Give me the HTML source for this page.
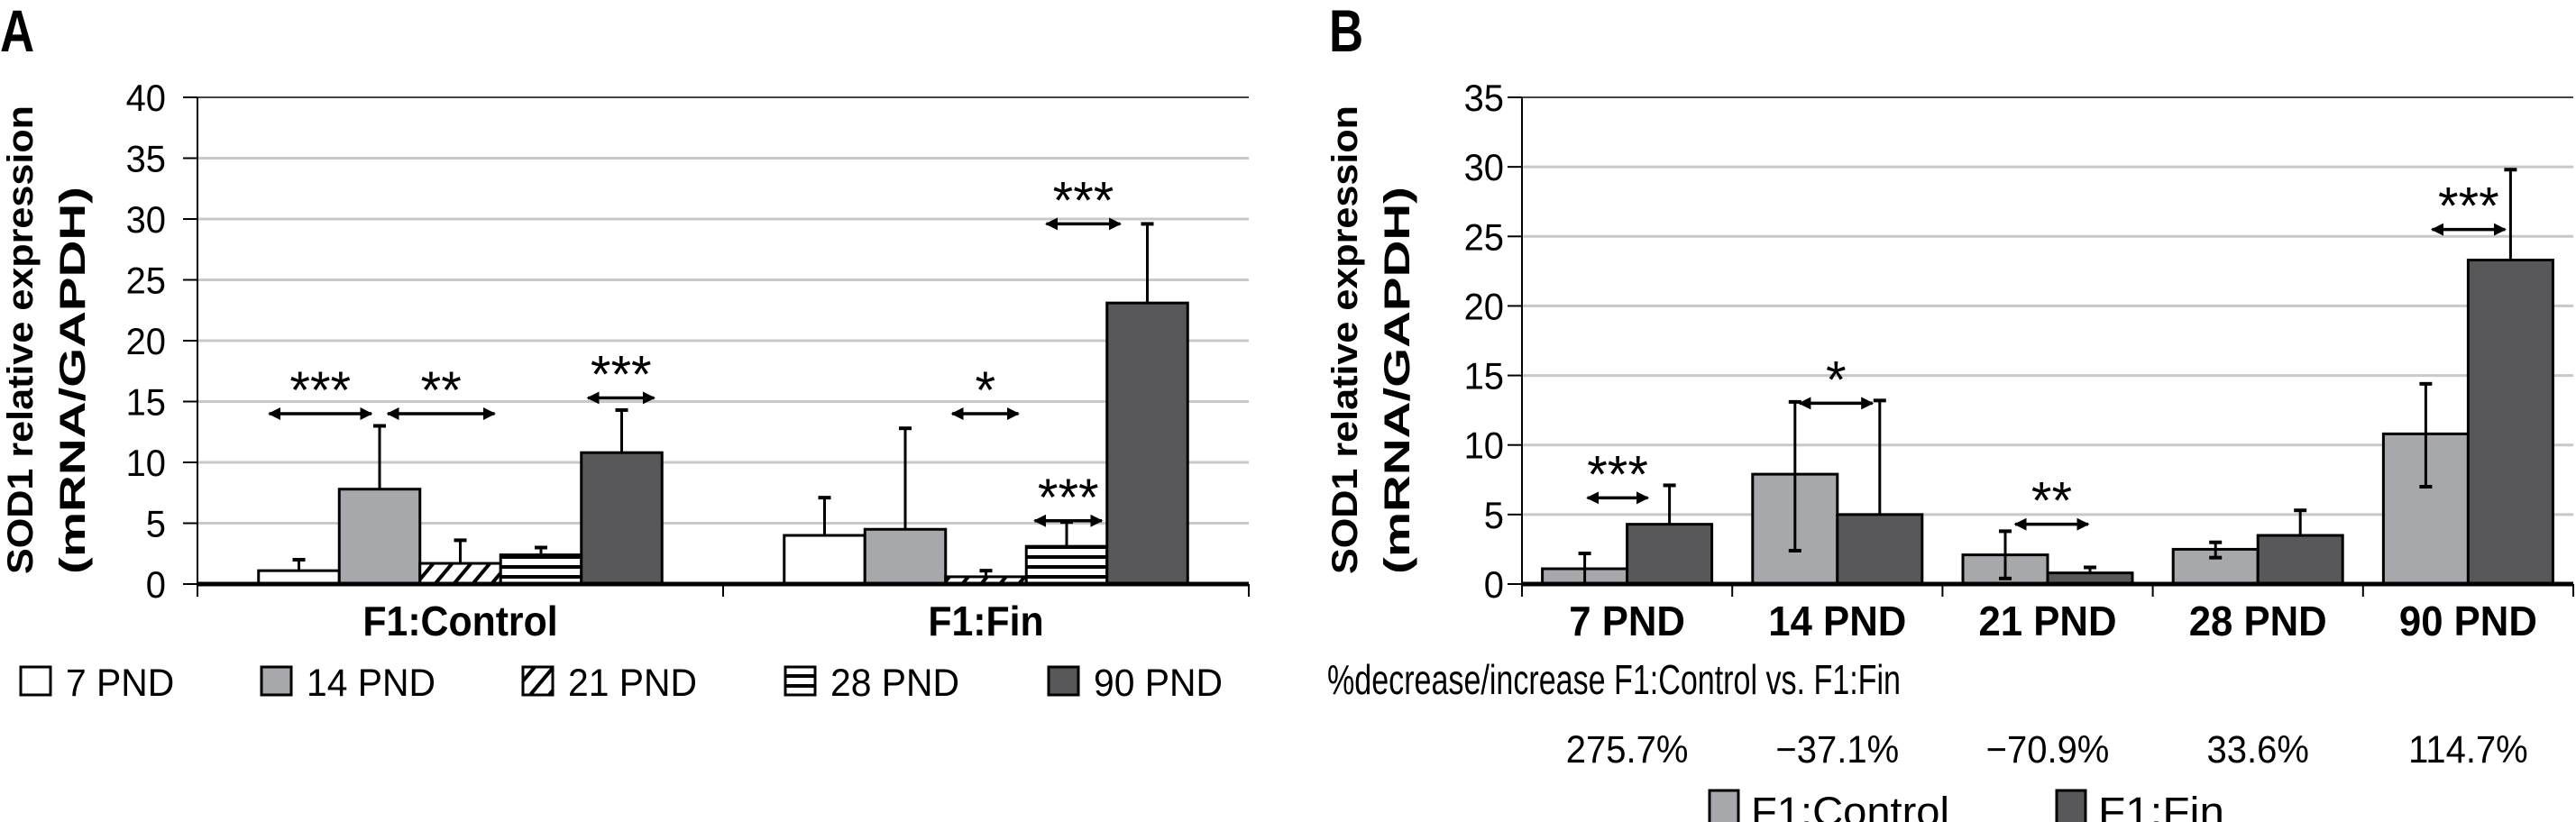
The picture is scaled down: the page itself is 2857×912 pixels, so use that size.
<!DOCTYPE html>
<html><head><meta charset="utf-8"><style>
html,body{margin:0;padding:0;background:#fff;}
svg{display:block;font-family:"Liberation Sans",sans-serif;}
</style></head><body>
<svg id="c" width="2857" height="912" viewBox="0 0 2857 912" xmlns="http://www.w3.org/2000/svg">
<defs>
<pattern id="diag" width="16" height="16" patternUnits="userSpaceOnUse" patternTransform="rotate(40)">
<rect width="16" height="16" fill="#fff"/><rect x="0" y="0" width="4" height="16" fill="#000"/></pattern>
<pattern id="horiz" width="10" height="11" patternUnits="userSpaceOnUse">
<rect width="10" height="11" fill="#fff"/><rect x="0" y="0" width="10" height="4" fill="#000"/></pattern>
<marker id="ah" viewBox="0 0 10 10" refX="9" refY="5" markerWidth="4" markerHeight="4" orient="auto-start-reverse"><path d="M0,0 L10,5 L0,10 z" fill="#000"/></marker>
</defs>
</svg>
<script>
// ---------- Panel A data ----------
const aGroups = ['F1:Control','F1:Fin'];
const aSeries = ['7 PND','14 PND','21 PND','28 PND','90 PND'];
const aControl = [1.1, 7.8, 1.7, 2.4, 10.8];
const aControlErr = [2.0, 13.0, 3.6, 3.0, 14.3];
const aFin = [4.0, 4.5, 0.6, 3.1, 23.1];
const aFinErr = [7.1, 12.8, 1.1, 5.1, 29.6];
const aTicks = [0,5,10,15,20,25,30,35,40];
// ---------- Panel B data ----------
const bCats = ['7 PND','14 PND','21 PND','28 PND','90 PND'];
const bControl = [1.1, 7.9, 2.1, 2.5, 10.8];
const bControlHi = [2.2, 13.1, 3.8, 3.0, 14.4];
const bControlLo = [0.0, 2.4, 0.4, 1.9, 7.0];
const bFin = [4.3, 5.0, 0.8, 3.5, 23.3];
const bFinHi = [7.1, 13.2, 1.2, 5.3, 29.8];
const bTicks = [0,5,10,15,20,25,30,35];
const bPct = ['275.7%','\u221237.1%','\u221270.9%','33.6%','114.7%'];

const NS='http://www.w3.org/2000/svg';
const svg=document.getElementById('c');
function el(tag,attrs,parent){const e=document.createElementNS(NS,tag);for(const k in attrs)e.setAttribute(k,attrs[k]);(parent||svg).appendChild(e);return e;}
function txt(x,y,s,size,anchor,bold,sx,parent){
  const t=el('text',{x:0,y:0,'font-size':size,'text-anchor':anchor||'start','font-weight':bold?'bold':'normal',fill:'#000',transform:`translate(${x},${y}) scale(${sx||1},1)`},parent);
  t.textContent=s;return t;}
function errBar(x,yTop,yBot){
  el('line',{x1:x,y1:yTop,x2:x,y2:yBot,stroke:'#000','stroke-width':3});
  el('line',{x1:x-7,y1:yTop,x2:x+7,y2:yTop,stroke:'#000','stroke-width':4});
}
function sig(x1,x2,y,label){
  el('line',{x1:x1+4,y1:y,x2:x2-4,y2:y,stroke:'#000','stroke-width':3.5,'marker-start':'url(#ah)','marker-end':'url(#ah)'});
  const t=txt((x1+x2)/2,y-6,label,58,'middle',false,1);
  
  
}

// ================= Panel A =================
const A={x0:219,x1:1385,yTop:108,yBot:648,max:40};
const ayS=v=>A.yBot-(v/A.max)*(A.yBot-A.yTop);
let pl=txt(0,57,'A',66,'start',true,0.8);

aTicks.forEach(v=>{
  const y=ayS(v);
  if(v>0&&v<A.max){const g=el('line',{x1:A.x0,y1:y,x2:A.x1,y2:y,stroke:'#c8c8c8','stroke-width':3});
  }
  el('line',{x1:A.x0-16,y1:y,x2:A.x0,y2:y,stroke:'#000','stroke-width':2});
  const t=txt(A.x0-35,y+15,String(v),42,'end',false,0.95);
  
});
el('line',{x1:A.x0,y1:A.yTop,x2:A.x1,y2:A.yTop,stroke:'#444','stroke-width':2});
const aGW=(A.x1-A.x0)/aGroups.length, aBW=89.5;
const aFills=['#fff','#a7a8ab','url(#diag)','url(#horiz)','#58585a'];
const aGroupBars=[];
aGroups.forEach((g,gi)=>{
  const vals=gi===0?aControl:aFin, errs=gi===0?aControlErr:aFinErr;
  const cx=A.x0+aGW*(gi+0.5), start=cx-aBW*aSeries.length/2;
  const xs=[];
  vals.forEach((v,i)=>{
    const x=start+i*aBW; xs.push(x+aBW/2);
    const r=el('rect',{x:x,y:ayS(v),width:aBW,height:A.yBot-ayS(v),fill:aFills[i],stroke:'#000','stroke-width':3});
    
    
    errBar(x+aBW/2,ayS(errs[i]),ayS(v));
  });
  aGroupBars.push(xs);
  const t=txt(cx,705,g,46,'middle',true,0.93);
  
});
el('line',{x1:A.x0,y1:A.yTop,x2:A.x0,y2:A.yBot+14,stroke:'#000','stroke-width':2});
el('line',{x1:A.x0,y1:A.yBot,x2:A.x1,y2:A.yBot,stroke:'#000','stroke-width':5});
[A.x0,A.x0+aGW,A.x1].forEach(x=>el('line',{x1:x,y1:A.yBot,x2:x,y2:A.yBot+14,stroke:'#000','stroke-width':2}));
// significance A
sig(aGroupBars[0][0]-37,aGroupBars[0][1]-5,ayS(14),'***');
sig(aGroupBars[0][1]+5,aGroupBars[0][2]+42,ayS(14),'**');
sig(aGroupBars[0][3]+48,aGroupBars[0][4]+40,ayS(15.3),'***');
sig(aGroupBars[1][1]+48,aGroupBars[1][2]+40,ayS(14),'*');
sig(aGroupBars[1][2]+50,aGroupBars[1][3]+43,ayS(5.2),'***');
sig(aGroupBars[1][4]-116,aGroupBars[1][4]-26,ayS(29.6),'***');
// y title A
let yt=el('text',{transform:'translate(36,377) rotate(-90)','text-anchor':'middle','font-size':40,'font-weight':'bold',fill:'#000',textLength:520,lengthAdjust:'spacingAndGlyphs'});
yt.textContent='SOD1 relative expression';
yt=el('text',{transform:'translate(94,422) rotate(-90)','text-anchor':'middle','font-size':40,'font-weight':'bold',fill:'#000',textLength:430,lengthAdjust:'spacingAndGlyphs'});
yt.textContent='(mRNA/GAPDH)';
// legend A
const aLegX=[23,290,580,871,1163];
aSeries.forEach((s,i)=>{
  const g=el('g',{});
  
  el('rect',{x:aLegX[i],y:740,width:33,height:31,fill:aFills[i],stroke:'#000','stroke-width':3},g);
  txt(aLegX[i]+50,772,s,43,'start',false,0.95,g);
});

// ================= Panel B =================
const B={x0:1688,x1:2854,yTop:108,yBot:648,max:35};
const byS=v=>B.yBot-(v/B.max)*(B.yBot-B.yTop);
pl=txt(1474,57,'B',66,'start',true,0.8);

bTicks.forEach(v=>{
  const y=byS(v);
  if(v>0&&v<B.max){const g=el('line',{x1:B.x0,y1:y,x2:B.x1,y2:y,stroke:'#c8c8c8','stroke-width':3});
  }
  el('line',{x1:B.x0-16,y1:y,x2:B.x0,y2:y,stroke:'#000','stroke-width':2});
  const t=txt(B.x0-20,y+15,String(v),42,'end',false,0.95);
  
});
el('line',{x1:B.x0,y1:B.yTop,x2:B.x1,y2:B.yTop,stroke:'#444','stroke-width':2});
const bCW=(B.x1-B.x0)/bCats.length, bBW=94;
const bCenters=[];
bCats.forEach((c,i)=>{
  const cx=B.x0+bCW*(i+0.5); bCenters.push(cx);
  let r=el('rect',{x:cx-bBW,y:byS(bControl[i]),width:bBW,height:B.yBot-byS(bControl[i]),fill:'#a7a8ab',stroke:'#000','stroke-width':3});
  
  r=el('rect',{x:cx,y:byS(bFin[i]),width:bBW,height:B.yBot-byS(bFin[i]),fill:'#58585a',stroke:'#000','stroke-width':3});
  
  const xc=cx-bBW/2;
  errBar(xc,byS(bControlHi[i]),byS(bControlLo[i]));
  el('line',{x1:xc-7,y1:byS(bControlLo[i]),x2:xc+7,y2:byS(bControlLo[i]),stroke:'#000','stroke-width':4});
  errBar(cx+bBW/2,byS(bFinHi[i]),byS(bFin[i]));
  let t=txt(cx,705,c,46,'middle',true,0.95);
  
  t=txt(cx,846,bPct[i],43,'middle',false,0.93);
  
});
el('line',{x1:B.x0,y1:B.yTop,x2:B.x0,y2:B.yBot+14,stroke:'#000','stroke-width':2});
el('line',{x1:B.x0,y1:B.yBot,x2:B.x1,y2:B.yBot,stroke:'#000','stroke-width':5});
for(let i=0;i<=bCats.length;i++){const x=B.x0+bCW*i;el('line',{x1:x,y1:B.yBot,x2:x,y2:B.yBot+14,stroke:'#000','stroke-width':2});}
sig(bCenters[0]-48,bCenters[0]+27,byS(6.2),'***');
sig(bCenters[1]-46,bCenters[1]+43,byS(13),'*');
sig(bCenters[2]-40,bCenters[2]+49,byS(4.3),'**');
sig(bCenters[4]-44,bCenters[4]+45,byS(25.5),'***');
yt=el('text',{transform:'translate(1505,377) rotate(-90)','text-anchor':'middle','font-size':40,'font-weight':'bold',fill:'#000',textLength:520,lengthAdjust:'spacingAndGlyphs'});
yt.textContent='SOD1 relative expression';
yt=el('text',{transform:'translate(1563,422) rotate(-90)','text-anchor':'middle','font-size':40,'font-weight':'bold',fill:'#000',textLength:430,lengthAdjust:'spacingAndGlyphs'});
yt.textContent='(mRNA/GAPDH)';
let nt=el('text',{x:1472,y:770,'font-size':46,fill:'#000',textLength:636,lengthAdjust:'spacingAndGlyphs'});
nt.textContent='%decrease/increase F1:Control vs. F1:Fin';

// legend B
[['F1:Control','#a7a8ab',1896,220],['F1:Fin','#58585a',2281,140]].forEach(([s,f,x,w])=>{
  const g=el('g',{});
  
  el('rect',{x:x,y:877,width:32,height:40,fill:f,stroke:'#000','stroke-width':3},g);
  const t=el('text',{x:x+46,y:916,'font-size':45,fill:'#000',textLength:w,lengthAdjust:'spacingAndGlyphs'},g);
  t.textContent=s;
});
</script>
</body></html>
